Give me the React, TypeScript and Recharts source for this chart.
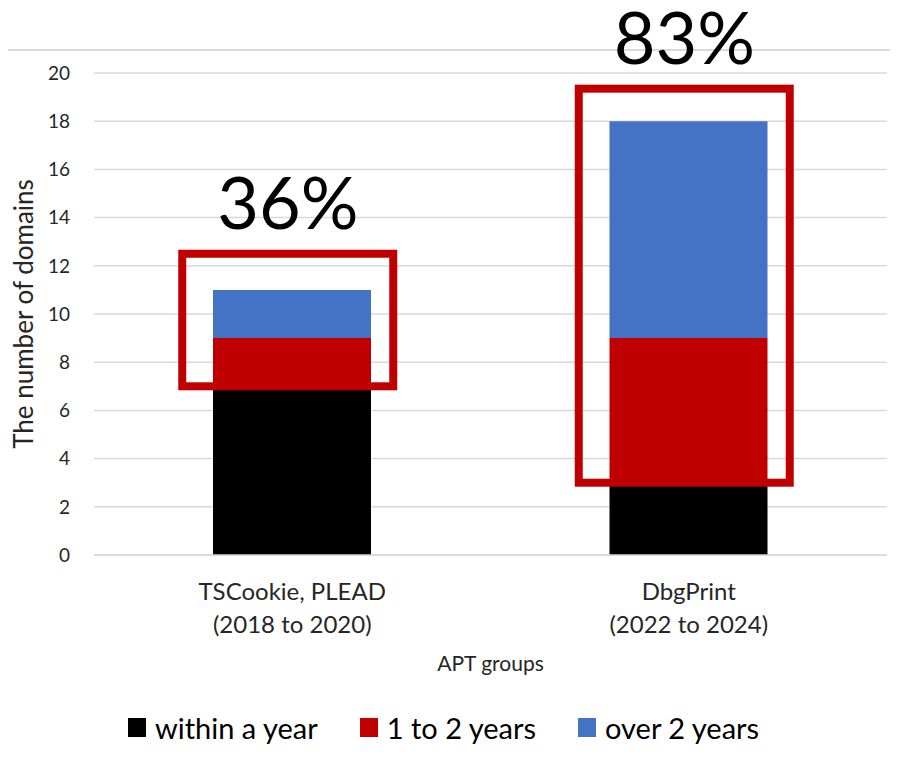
import { Bar, BarChart, CartesianGrid, Legend, ReferenceArea, XAxis, YAxis } from "recharts";

const groupNames = ["TSCookie, PLEAD", "DbgPrint"];
const groupYears = ["(2018 to 2020)", "(2022 to 2024)"];

const withinYear = [7, 3];
const oneToTwo = [2, 6];
const overTwo = [2, 9];

// highlighted ranges (the red frames) and their shares of domains
const frameLow = [7, 3];
const frameHigh = [12.5, 19.35];
const frameShare = ["36%", "83%"];

const yTicks = [0, 2, 4, 6, 8, 10, 12, 14, 16, 18, 20];

const SERIES = [
  { key: "within", label: "within a year", color: "#000000" },
  { key: "oneTwo", label: "1 to 2 years", color: "#C00000" },
  { key: "over", label: "over 2 years", color: "#4472C4" },
];

const FONT = "Lato, 'Open Sans', sans-serif";

const data = groupNames.map((name, i) => ({
  name,
  years: groupYears[i],
  within: withinYear[i],
  oneTwo: oneToTwo[i],
  over: overTwo[i],
}));

function GroupTick({ x, y, payload, index }: any) {
  return (
    <text x={x} y={y} textAnchor="middle" fill="#262626" fontSize={24} fontFamily={FONT}>
      <tspan x={x} dy={45}>{payload.value}</tspan>
      <tspan x={x} dy={33}>{groupYears[index]}</tspan>
    </text>
  );
}

function Frame(props: any, share: string) {
  const { x, y, width, height } = props;
  const cx = x + width / 2 - 4.5;
  const w = 211;
  return (
    <g>
      <rect x={cx - w / 2} y={y} width={w} height={height} fill="none" stroke="#C00000" strokeWidth={8} />
      <text x={cx} y={y - 25} textAnchor="middle" fontSize={72} fontFamily={FONT} fill="#000">
        {share}
      </text>
    </g>
  );
}

function LegendBox() {
  return (
    <div style={{ display: "flex", justifyContent: "center", alignItems: "center", height: 40, fontFamily: FONT, fontSize: 29, color: "#000" }}>
      {SERIES.map((s) => (
        <div key={s.key} style={{ display: "flex", alignItems: "center", margin: "0 21px" }}>
          <span style={{ width: 18, height: 19, background: s.color, display: "inline-block", marginRight: 9 }} />
          <span>{s.label}</span>
        </div>
      ))}
    </div>
  );
}

export default function App() {
  return (
    <div style={{ position: "relative", margin: -8, width: 898, height: 762, background: "#fff" }}>
      <div style={{ position: "absolute", left: 0, top: 49, width: 898, height: 2, background: "#d9d9d9" }} />
      <div style={{ position: "relative" }}>
        <BarChart width={898} height={762} data={data} margin={{ top: 73, right: 11, left: 0, bottom: 15 }} barSize={158}>
          <CartesianGrid vertical={false} stroke="#d9d9d9" strokeWidth={1.5} />
          <XAxis
            dataKey="name"
            height={152}
            axisLine={{ stroke: "#d9d9d9", strokeWidth: 1.5 }}
            tickLine={false}
            tickSize={0}
            tickMargin={0}
            tick={<GroupTick />}
            label={{
              content: ({ viewBox }: any) => (
                <text x={viewBox.x + viewBox.width / 2} y={viewBox.y + 116} textAnchor="middle" fontSize={21} fontFamily={FONT} fill="#262626">
                  APT groups
                </text>
              ),
            }}
          />
          <YAxis
            width={94}
            domain={[0, 20]}
            ticks={yTicks}
            axisLine={false}
            tickLine={false}
            tickSize={0}
            tickMargin={24}
            tick={{ fontSize: 19, fontFamily: FONT, fill: "#262626" }}
            label={{
              content: ({ viewBox }: any) => {
                const cy = viewBox.y + viewBox.height / 2;
                return (
                  <text x={33} y={cy} transform={`rotate(-90 33 ${cy})`} textAnchor="middle" fontSize={26} fontFamily={FONT} fill="#262626">
                    The number of domains
                  </text>
                );
              },
            }}
          />
          {SERIES.map((s) => (
            <Bar key={s.key} dataKey={s.key} name={s.label} stackId="a" fill={s.color} isAnimationActive={false} />
          ))}
          {groupNames.map((g, i) => (
            <ReferenceArea
              key={g}
              x1={g}
              x2={g}
              y1={frameLow[i]}
              y2={frameHigh[i]}
              zIndex={1000}
              shape={(p: any) => Frame(p, frameShare[i])}
            />
          ))}
          <Legend verticalAlign="bottom" content={<LegendBox />} />
        </BarChart>
      </div>
    </div>
  );
}
